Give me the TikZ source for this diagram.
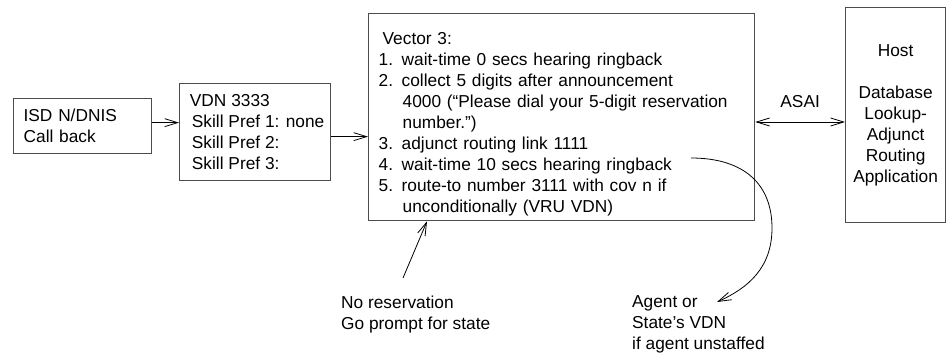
\documentclass[tikz,border=0pt]{standalone}
\usepackage{fontspec}
\setmainfont{Liberation Sans}
\usetikzlibrary{arrows.meta,calc}

\begin{document}
\begin{tikzpicture}[x=1pt,y=-1pt,
  font=\fontsize{17.3}{21}\selectfont,
  box/.style={draw=black!70, line width=1.3pt, inner ysep=0pt, inner xsep=10pt,
              align=left, anchor=north west},
  arr/.style={line width=0.8pt, -{Straight Barb[length=13pt,width=8pt]}},
  dbl/.style={line width=0.8pt, {Straight Barb[length=13pt,width=8pt]}-{Straight Barb[length=13pt,width=8pt]}},
  txt/.style={inner sep=0pt, align=left, anchor=north west}]
\useasboundingbox (0,0) rectangle (946,356);

% the four boxes, left to right
\node[box, text width=118pt, minimum height=55pt] (isd) at (13,98)
  {ISD N/DNIS\\Call back};
\node[box, inner xsep=0pt, minimum width=151pt, minimum height=97pt] (vdn) at (179,83)
  {\hspace*{4pt}VDN 3333\\
   \hspace*{6pt}Skill Pref 1: none\\
   \hspace*{6pt}Skill Pref 2:\\
   \hspace*{6pt}Skill Pref 3:};
\node[box, text width=366pt, minimum height=207pt] (vec) at (368,13)
  {\rule{0pt}{26pt}\hspace*{4pt}Vector 3:\\
   1. wait-time 0 secs hearing ringback\\
   2. collect 5 digits after announcement\\
   \hspace*{24pt}4000 (``Please dial your 5-digit reservation\\
   \hspace*{24pt}number.'')\\
   3. adjunct routing link 1111\\
   4. wait-time 10 secs hearing ringback\\
   5. route-to number 3111 with cov n if\\
   \hspace*{24pt}unconditionally (VRU VDN)};
\node[box, inner xsep=5pt, text width=90pt, minimum height=215pt, align=center] (host) at (845,7)
  {Host\\[21pt]Database\\Lookup-\\Adjunct\\Routing\\Application};

% notes under the vector
\node[txt] (noRes) at (341,296) {No reservation\\Go prompt for state};
\node[txt] (agent) at (632,295) {Agent or\\State's VDN\\if agent unstaffed};

% connectors
\coordinate (isdOut) at ([yshift=3.5pt]isd.east);
\coordinate (vdnOut) at ([yshift=-4.5pt]vdn.east);
\coordinate (asai) at (800,122);
\coordinate (resTail) at (403,278);
\coordinate (ringEnd) at (691,158);
\coordinate (agentTip) at (717,302);

\draw[arr] (isdOut) -- (isdOut -| vdn.west);
\draw[arr] (vdnOut) -- (vdnOut -| vec.west);
\draw[dbl] (asai -| vec.east) -- (asai -| host.west)
  node[midway, above=14pt, inner sep=0pt] (asaiLbl) {ASAI};
\draw[arr] (resTail) -- ([xshift=59pt]vec.south west);
\draw[arr] (ringEnd) .. controls (745,158) and (772,185) .. (772,228)
  .. controls (772,268) and (748,288) .. (agentTip);
\end{tikzpicture}
\end{document}
